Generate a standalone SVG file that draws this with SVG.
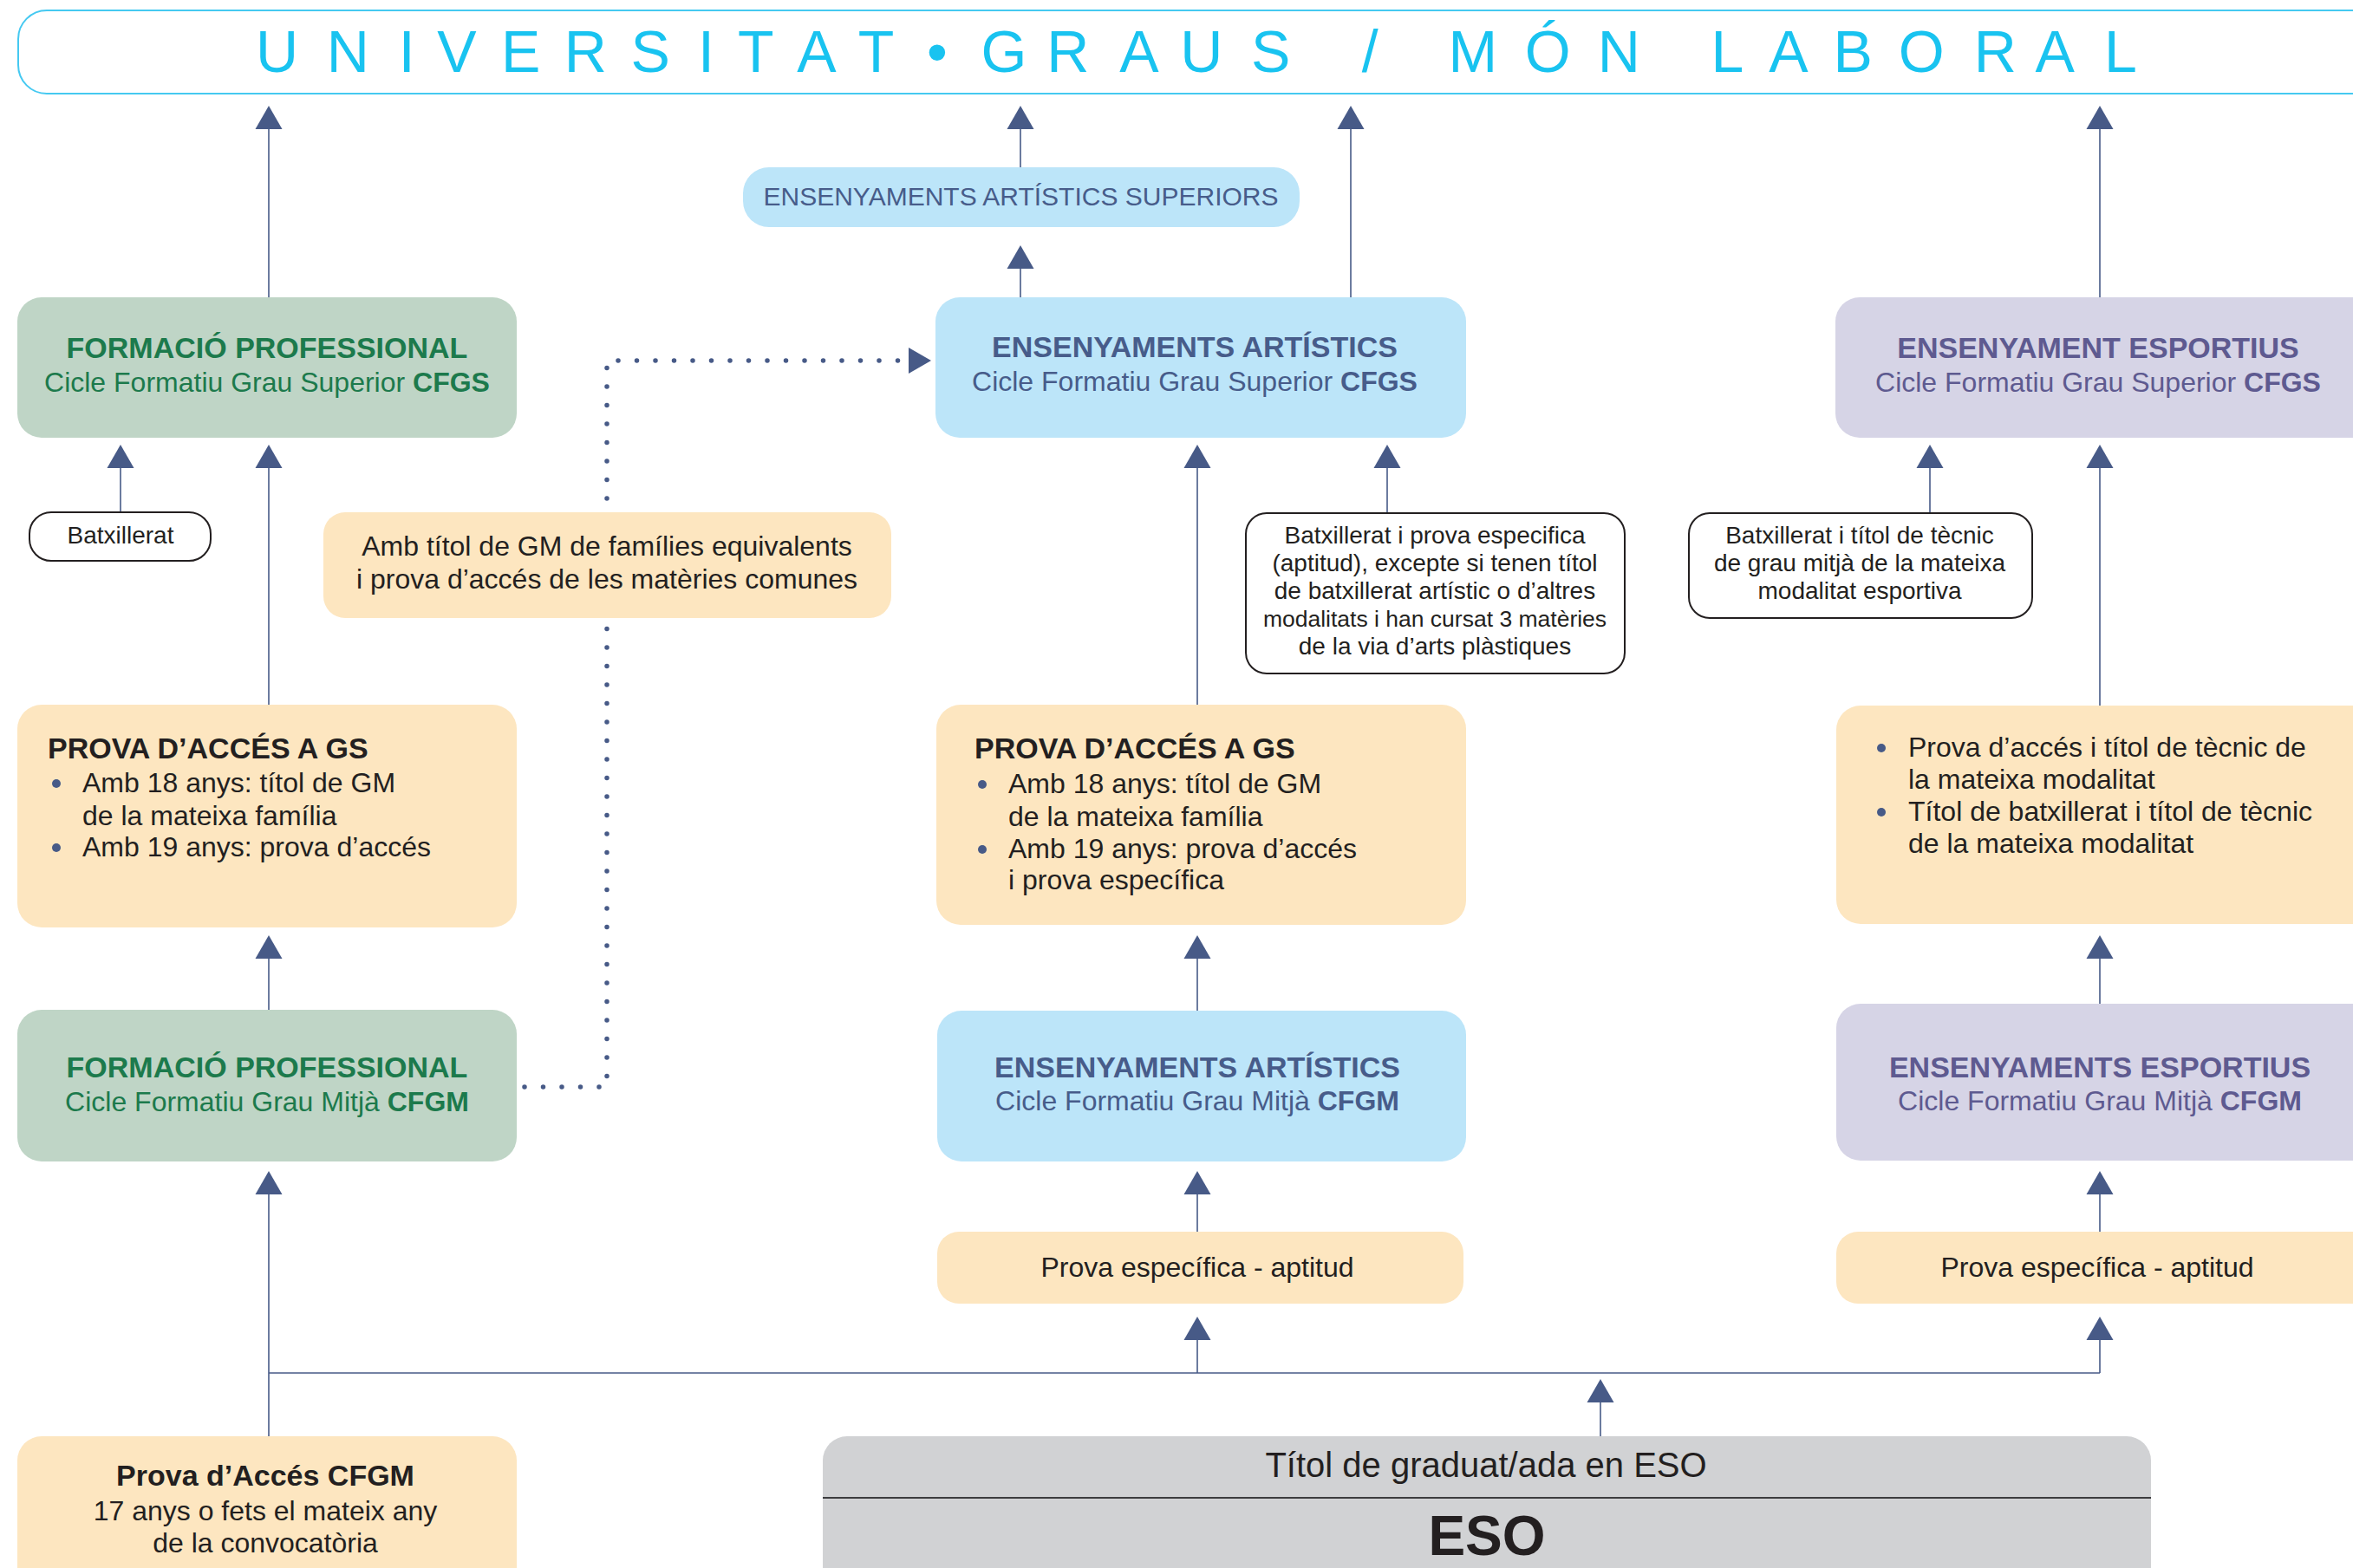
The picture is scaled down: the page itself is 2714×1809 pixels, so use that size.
<svg xmlns="http://www.w3.org/2000/svg" width="2714" height="1809" viewBox="0 0 2714 1809">
<defs>
<style>
text{font-family:"Liberation Sans",Arial,Helvetica,sans-serif}
.hd{font-size:34px;font-weight:bold}
.sb{font-size:32px}
.sm{font-size:28px}
.b{font-weight:bold}
.green{fill:#1c7a4c}
.blue{fill:#475c8a}
.purp{fill:#5e5a90}
.dark{fill:#231f20}
.conn{stroke:#475a87;stroke-width:1.6;fill:none}
.dot{stroke:#475a87;stroke-width:5.5;stroke-linecap:round;stroke-dasharray:0 21.5;fill:none}
.outline{fill:#ffffff;stroke:#231f20;stroke-width:2}
.fg{fill:#bfd5c6}
.fb{fill:#bce5f9}
.fp{fill:#d6d4e6}
.fy{fill:#fde6c0}
.fgray{fill:#d1d2d4}
.bul{fill:#475a87}
</style>
<marker id="ah" markerUnits="userSpaceOnUse" markerWidth="28" markerHeight="31" refX="0" refY="15.5" orient="auto" overflow="visible">
<path d="M0,0 L27,15.5 L0,31 z" fill="#475a87"/>
</marker>
<marker id="ahd" markerUnits="userSpaceOnUse" markerWidth="27" markerHeight="31" refX="0" refY="15" orient="auto" overflow="visible">
<path d="M0,0 L26,15 L0,30 z" fill="#475a87"/>
</marker>
</defs>
<rect width="2714" height="1809" fill="#ffffff"/>

<g id="connectors">
<path class="dot" d="M605,1254 H700 V416 H1048" marker-end="url(#ahd)"/>
<path class="conn" d="M310,343 V149" marker-end="url(#ah)"/>
<path class="conn" d="M1177,193 V149" marker-end="url(#ah)"/>
<path class="conn" d="M1558,343 V149" marker-end="url(#ah)"/>
<path class="conn" d="M2422,343 V149" marker-end="url(#ah)"/>
<path class="conn" d="M1177,343 V310" marker-end="url(#ah)"/>
<path class="conn" d="M139,591 V540" marker-end="url(#ah)"/>
<path class="conn" d="M310,813 V540" marker-end="url(#ah)"/>
<path class="conn" d="M1381,813 V540" marker-end="url(#ah)"/>
<path class="conn" d="M1600,592 V540" marker-end="url(#ah)"/>
<path class="conn" d="M2226,592 V540" marker-end="url(#ah)"/>
<path class="conn" d="M2422,814 V540" marker-end="url(#ah)"/>
<path class="conn" d="M310,1165 V1106" marker-end="url(#ah)"/>
<path class="conn" d="M1381,1166 V1106" marker-end="url(#ah)"/>
<path class="conn" d="M2422,1158 V1106" marker-end="url(#ah)"/>
<path class="conn" d="M310,1657 V1378" marker-end="url(#ah)"/>
<path class="conn" d="M1381,1421 V1378" marker-end="url(#ah)"/>
<path class="conn" d="M2422,1421 V1378" marker-end="url(#ah)"/>
<path class="conn" d="M310,1584 H2422"/>
<path class="conn" d="M1381,1584 V1546" marker-end="url(#ah)"/>
<path class="conn" d="M2422,1584 V1546" marker-end="url(#ah)"/>
<path class="conn" d="M1846,1657 V1618" marker-end="url(#ah)"/>
</g>

<g id="header">
<rect x="21" y="12" width="2740" height="96" rx="33" fill="#ffffff" stroke="#45c9f1" stroke-width="2"/>
<text y="83" font-size="68" fill="#19c3f0" text-anchor="middle" x="319.6 401.2 469.2 526.9 600.7 675.2 750.3 814.5 871.7 942 1010.5 1080.8 1158 1231.7 1314 1385.9 1465.8 1523 1580.2 1640 1698.9 1785.3 1867.3 1930 1992.5 2062.9 2137.1 2216.2 2301.2 2370.3 2445.8">UNIVERSITAT•GRAUS / MÓN LABORAL</text>
</g>

<g id="esa-superiors">
<rect class="fb" x="857" y="193" width="642" height="69" rx="30"/>
<text class="blue" x="1177.5" y="237" font-size="30" text-anchor="middle">ENSENYAMENTS ARTÍSTICS SUPERIORS</text>
</g>

<g id="fp-cfgs">
<rect class="fg" x="20" y="343" width="576" height="162" rx="28"/>
<text class="green hd" x="308" y="413" text-anchor="middle">FORMACIÓ PROFESSIONAL</text>
<text class="green sb" x="308" y="452" text-anchor="middle">Cicle Formatiu Grau Superior <tspan class="b">CFGS</tspan></text>
</g>

<g id="ea-cfgs">
<rect class="fb" x="1079" y="343" width="612" height="162" rx="28"/>
<text class="blue hd" x="1378" y="412" text-anchor="middle">ENSENYAMENTS ARTÍSTICS</text>
<text class="blue sb" x="1378" y="451" text-anchor="middle">Cicle Formatiu Grau Superior <tspan class="b">CFGS</tspan></text>
</g>

<g id="ee-cfgs">
<rect class="fp" x="2117" y="343" width="700" height="162" rx="28"/>
<text class="purp hd" x="2420" y="413" text-anchor="middle">ENSENYAMENT ESPORTIUS</text>
<text class="purp sb" x="2420" y="452" text-anchor="middle">Cicle Formatiu Grau Superior <tspan class="b">CFGS</tspan></text>
</g>

<g id="batx">
<rect class="outline" x="34" y="591" width="209" height="56" rx="25"/>
<text class="dark sm" x="139" y="627" text-anchor="middle">Batxillerat</text>
</g>

<g id="gm-families">
<rect class="fy" x="373" y="591" width="655" height="122" rx="25"/>
<text class="dark sb" x="700" y="641" text-anchor="middle">Amb títol de GM de famílies equivalents</text>
<text class="dark sb" x="700" y="679" text-anchor="middle">i prova d’accés de les matèries comunes</text>
</g>

<g id="batx-prova">
<rect class="outline" x="1437" y="592" width="437" height="185" rx="24"/>
<text class="dark sm" x="1655" y="627" text-anchor="middle">Batxillerat i prova especifica</text>
<text class="dark sm" x="1655" y="659" text-anchor="middle">(aptitud), excepte si tenen títol</text>
<text class="dark sm" x="1655" y="691" text-anchor="middle">de batxillerat artístic o d’altres</text>
<text class="dark" x="1655" y="723" font-size="26.5" text-anchor="middle">modalitats i han cursat 3 matèries</text>
<text class="dark sm" x="1655" y="755" text-anchor="middle">de la via d’arts plàstiques</text>
</g>

<g id="batx-tecnic">
<rect class="outline" x="1948" y="592" width="396" height="121" rx="24"/>
<text class="dark sm" x="2145" y="627" text-anchor="middle">Batxillerat i títol de tècnic</text>
<text class="dark sm" x="2145" y="659" text-anchor="middle">de grau mitjà de la mateixa</text>
<text class="dark sm" x="2145" y="691" text-anchor="middle">modalitat esportiva</text>
</g>

<g id="prova-gs-fp">
<rect class="fy" x="20" y="813" width="576" height="257" rx="28"/>
<text class="dark hd" x="55" y="875">PROVA D’ACCÉS A GS</text>
<circle class="bul" cx="65" cy="904" r="5"/>
<circle class="bul" cx="65" cy="978" r="5"/>
<text class="dark sb" x="95" y="914">Amb 18 anys: títol de GM</text>
<text class="dark sb" x="95" y="952">de la mateixa família</text>
<text class="dark sb" x="95" y="988">Amb 19 anys: prova d’accés</text>
</g>

<g id="prova-gs-ea">
<rect class="fy" x="1080" y="813" width="611" height="254" rx="28"/>
<text class="dark hd" x="1124" y="875">PROVA D’ACCÉS A GS</text>
<circle class="bul" cx="1133" cy="905" r="5"/>
<circle class="bul" cx="1133" cy="980" r="5"/>
<text class="dark sb" x="1163" y="915">Amb 18 anys: títol de GM</text>
<text class="dark sb" x="1163" y="953">de la mateixa família</text>
<text class="dark sb" x="1163" y="990">Amb 19 anys: prova d’accés</text>
<text class="dark sb" x="1163" y="1026">i prova específica</text>
</g>

<g id="prova-ee">
<rect class="fy" x="2118" y="814" width="700" height="252" rx="28"/>
<circle class="bul" cx="2170" cy="863" r="5"/>
<circle class="bul" cx="2170" cy="937" r="5"/>
<text class="dark sb" x="2201" y="873">Prova d’accés i títol de tècnic de</text>
<text class="dark sb" x="2201" y="910">la mateixa modalitat</text>
<text class="dark sb" x="2201" y="947">Títol de batxillerat i títol de tècnic</text>
<text class="dark sb" x="2201" y="984">de la mateixa modalitat</text>
</g>

<g id="fp-cfgm">
<rect class="fg" x="20" y="1165" width="576" height="175" rx="28"/>
<text class="green hd" x="308" y="1243" text-anchor="middle">FORMACIÓ PROFESSIONAL</text>
<text class="green sb" x="308" y="1282" text-anchor="middle">Cicle Formatiu Grau Mitjà <tspan class="b">CFGM</tspan></text>
</g>

<g id="ea-cfgm">
<rect class="fb" x="1081" y="1166" width="610" height="174" rx="28"/>
<text class="blue hd" x="1381" y="1243" text-anchor="middle">ENSENYAMENTS ARTÍSTICS</text>
<text class="blue sb" x="1381" y="1281" text-anchor="middle">Cicle Formatiu Grau Mitjà <tspan class="b">CFGM</tspan></text>
</g>

<g id="ee-cfgm">
<rect class="fp" x="2118" y="1158" width="700" height="181" rx="28"/>
<text class="purp hd" x="2422" y="1243" text-anchor="middle">ENSENYAMENTS ESPORTIUS</text>
<text class="purp sb" x="2422" y="1281" text-anchor="middle">Cicle Formatiu Grau Mitjà <tspan class="b">CFGM</tspan></text>
</g>

<g id="prova-esp-ea">
<rect class="fy" x="1081" y="1421" width="607" height="83" rx="25"/>
<text class="dark sb" x="1381" y="1473" text-anchor="middle">Prova específica - aptitud</text>
</g>

<g id="prova-esp-ee">
<rect class="fy" x="2118" y="1421" width="700" height="83" rx="25"/>
<text class="dark sb" x="2419" y="1473" text-anchor="middle">Prova específica - aptitud</text>
</g>

<g id="prova-cfgm">
<rect class="fy" x="20" y="1657" width="576" height="200" rx="28"/>
<text class="dark hd" x="306" y="1714" text-anchor="middle">Prova d’Accés CFGM</text>
<text class="dark sb" x="306" y="1754" text-anchor="middle">17 anys o fets el mateix any</text>
<text class="dark sb" x="306" y="1791" text-anchor="middle">de la convocatòria</text>
</g>

<g id="eso">
<rect class="fgray" x="949" y="1657" width="1532" height="200" rx="28"/>
<line x1="949" y1="1728" x2="2481" y2="1728" stroke="#3d3d3f" stroke-width="2"/>
<text class="dark" x="1714" y="1704" font-size="40" text-anchor="middle">Títol de graduat/ada en ESO</text>
<text class="dark" x="1715" y="1794" font-size="64" font-weight="bold" text-anchor="middle">ESO</text>
</g>
</svg>
